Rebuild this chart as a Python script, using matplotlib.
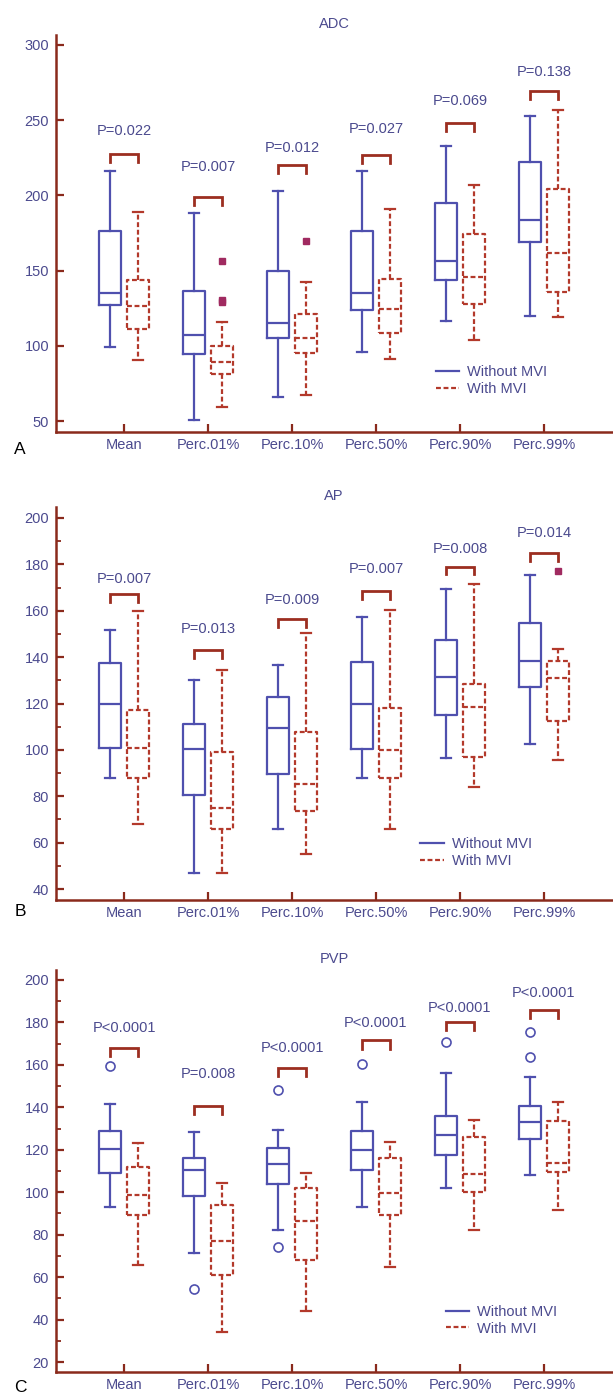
import matplotlib.pyplot as plt
from matplotlib.ticker import MultipleLocator
from matplotlib.lines import Line2D

plt.rcParams['font.family'] = ['Liberation Sans', 'DejaVu Sans']

BLUE = '#4f50ae'
RED = '#b3392b'
SPINE = '#8a2a1c'
TEXT = '#4b4a8e'
BRACKET = '#9c2e20'
SQUARE = '#a02a60'

categories = ['Mean', 'Perc.01%', 'Perc.10%', 'Perc.50%', 'Perc.90%', 'Perc.99%']

# whisker low, q1, median, q3, whisker high
adc_without = [(99, 127, 135, 176.5, 216), (51, 94.5, 107, 136.5, 188), (66, 105, 115, 149.5, 203),
               (96, 124, 135, 176, 216), (116.5, 144, 156.5, 195, 232.5), (120, 169, 183.5, 222, 252.5)]
adc_with = [(90.5, 111.5, 126.5, 144, 189), (59, 81, 89.5, 100, 115.5), (67.5, 95.5, 105, 121, 142.5),
            (91.5, 108.5, 124.5, 144.5, 191), (104, 127.5, 146, 174.5, 207), (119, 136, 162, 204, 256.5)]
adc_without_fliers = [[], [], [], [], [], []]
adc_with_fliers = [[], [156.5, 130.5, 129], [169.5], [], [], []]
adc_p = ['P=0.022', 'P=0.007', 'P=0.012', 'P=0.027', 'P=0.069', 'P=0.138']
adc_bracket_y = [227.5, 199, 220, 227, 248, 269.5]
adc_label_y = [243, 219, 231.5, 244, 263, 282]

ap_without = [(88, 101, 120, 137.5, 151.5), (47, 80.5, 100.5, 111, 130), (66, 89.5, 109.5, 123, 136.5),
              (88, 100.5, 120, 138, 157.5), (96.5, 115, 131.5, 147.5, 169.5), (102.5, 127, 138.5, 154.5, 175.5)]
ap_with = [(68, 88, 101, 117, 160), (47, 66, 75, 99, 134.5), (55, 73.5, 85.5, 107.5, 150.5),
           (66, 88, 100, 118, 160.5), (84, 97, 118.5, 128.5, 171.5), (95.5, 112.5, 131, 138.5, 143.5)]
ap_without_fliers = [[], [], [], [], [], []]
ap_with_fliers = [[], [], [], [], [], [177]]
ap_p = ['P=0.007', 'P=0.013', 'P=0.009', 'P=0.007', 'P=0.008', 'P=0.014']
ap_bracket_y = [167, 143, 156.5, 168.5, 179, 185]
ap_label_y = [173.5, 152, 164.5, 178, 186.5, 193.5]

pvp_without = [(93, 109, 120.5, 129, 141.5), (71.5, 98, 110.5, 116, 128.5), (82, 104, 113.5, 121, 129.5),
               (93, 110.5, 120, 129, 142.5), (102, 117.5, 127, 136, 156), (108, 125, 133, 140.5, 154.5)]
pvp_with = [(65.5, 89.5, 98.5, 112, 123), (34, 61, 77, 94, 104.5), (44, 68, 86.5, 102, 109),
            (65, 89.5, 99.5, 116, 123.5), (82, 100, 108.5, 126, 134), (91.5, 109.5, 114, 133.5, 142.5)]
pvp_without_fliers = [[159.5], [54.5], [148, 74], [160.5], [171], [175.5, 163.5]]
pvp_with_fliers = [[], [], [], [], [], []]
pvp_p = ['P<0.0001', 'P=0.008', 'P<0.0001', 'P<0.0001', 'P<0.0001', 'P<0.0001']
pvp_bracket_y = [168, 140.5, 158.5, 171.5, 180, 186]
pvp_label_y = [177.5, 155.5, 168, 179.5, 187, 194]


def to_stats(summary, fliers):
    out = []
    for (lo, q1, med, q3, hi), fl in zip(summary, fliers):
        out.append(dict(whislo=lo, q1=q1, med=med, q3=q3, whishi=hi, fliers=fl))
    return out


def draw_panel(ax, title, without, with_, fl_wo, fl_w, pvals, bracket_y, label_y,
               ylim, major, minor, circles, legend_xy):
    pos = list(range(1, len(categories) + 1))
    dash = (0, (2.2, 1.2))
    if circles:
        fp = dict(marker='o', markerfacecolor='none', markeredgecolor=BLUE, markersize=6.5, markeredgewidth=1.2)
    else:
        fp = dict(marker='s', markerfacecolor=SQUARE, markeredgecolor=SQUARE, markersize=5)

    ax.bxp(to_stats(without, fl_wo), positions=[p - 0.165 for p in pos], widths=0.26, capwidths=0.12,
           boxprops=dict(color=BLUE, lw=1.6), whiskerprops=dict(color=BLUE, lw=1.6),
           capprops=dict(color=BLUE, lw=1.6), medianprops=dict(color=BLUE, lw=1.6),
           flierprops=fp, manage_ticks=False)
    ax.bxp(to_stats(with_, fl_w), positions=[p + 0.165 for p in pos], widths=0.26, capwidths=0.12,
           boxprops=dict(color=RED, lw=1.6, linestyle=dash), whiskerprops=dict(color=RED, lw=1.6, linestyle=dash),
           capprops=dict(color=RED, lw=1.6), medianprops=dict(color=RED, lw=1.6, linestyle=dash),
           flierprops=fp, manage_ticks=False)

    leg = 0.02 * (ylim[1] - ylim[0])
    for p, by, ly, txt in zip(pos, bracket_y, label_y, pvals):
        ax.plot([p - 0.165, p - 0.165, p + 0.165, p + 0.165], [by - leg, by, by, by - leg],
                color=BRACKET, lw=2, solid_joinstyle='miter')
        ax.text(p, ly, txt, ha='center', va='center', fontsize=10.5, color=TEXT)

    ax.set_xlim(0.19, 6.81)
    ax.set_ylim(*ylim)
    ax.set_xticks(pos)
    ax.set_xticklabels(categories)
    ax.yaxis.set_major_locator(MultipleLocator(major))
    if minor:
        ax.yaxis.set_minor_locator(MultipleLocator(minor))
    for s in ['top', 'right']:
        ax.spines[s].set_visible(False)
    for s in ['left', 'bottom']:
        ax.spines[s].set_color(SPINE)
        ax.spines[s].set_linewidth(1.8)
    ax.tick_params(which='major', direction='in', length=6, width=1.6, color=SPINE,
                   labelcolor=TEXT, labelsize=10.5)
    ax.tick_params(axis='y', which='major', pad=5)
    ax.tick_params(axis='x', which='major', pad=4)
    ax.tick_params(which='minor', direction='in', length=3.5, width=1.3, color=SPINE)
    ax.set_title(title, fontsize=10.5, color=TEXT, pad=5)

    handles = [Line2D([], [], color=BLUE, lw=1.6),
               Line2D([], [], color=RED, lw=1.6, linestyle=dash)]
    ax.legend(handles, ['Without MVI', 'With MVI'], loc='center left', bbox_to_anchor=legend_xy,
              frameon=False, fontsize=10.5, labelcolor=TEXT, handlelength=1.6, handletextpad=0.55,
              labelspacing=0.2, borderpad=0, borderaxespad=0)


fig = plt.figure(figsize=(6.13, 13.99), dpi=100)
fig.patch.set_facecolor('white')

ax_a = fig.add_axes([56 / 613, 1 - 432 / 1399, 556 / 613, 397 / 1399])
ax_b = fig.add_axes([56 / 613, 1 - 900 / 1399, 556 / 613, 393 / 1399])
ax_c = fig.add_axes([56 / 613, 1 - 1372 / 1399, 556 / 613, 402 / 1399])

draw_panel(ax_a, 'ADC', adc_without, adc_with, adc_without_fliers, adc_with_fliers,
           adc_p, adc_bracket_y, adc_label_y, (42.7, 306.6), 50, None, False, (0.683, 0.13))
draw_panel(ax_b, 'AP', ap_without, ap_with, ap_without_fliers, ap_with_fliers,
           ap_p, ap_bracket_y, ap_label_y, (35.3, 204.7), 20, 10, False, (0.655, 0.121))
draw_panel(ax_c, 'PVP', pvp_without, pvp_with, pvp_without_fliers, pvp_with_fliers,
           pvp_p, pvp_bracket_y, pvp_label_y, (15.3, 204.7), 20, 10, True, (0.701, 0.129))

for letter, ypix in [('A', 450), ('B', 912), ('C', 1388)]:
    fig.text(20 / 613, 1 - ypix / 1399, letter, ha='center', va='center', fontsize=12.5, color='black')

fig.savefig('out.png', dpi=100, facecolor='white')
